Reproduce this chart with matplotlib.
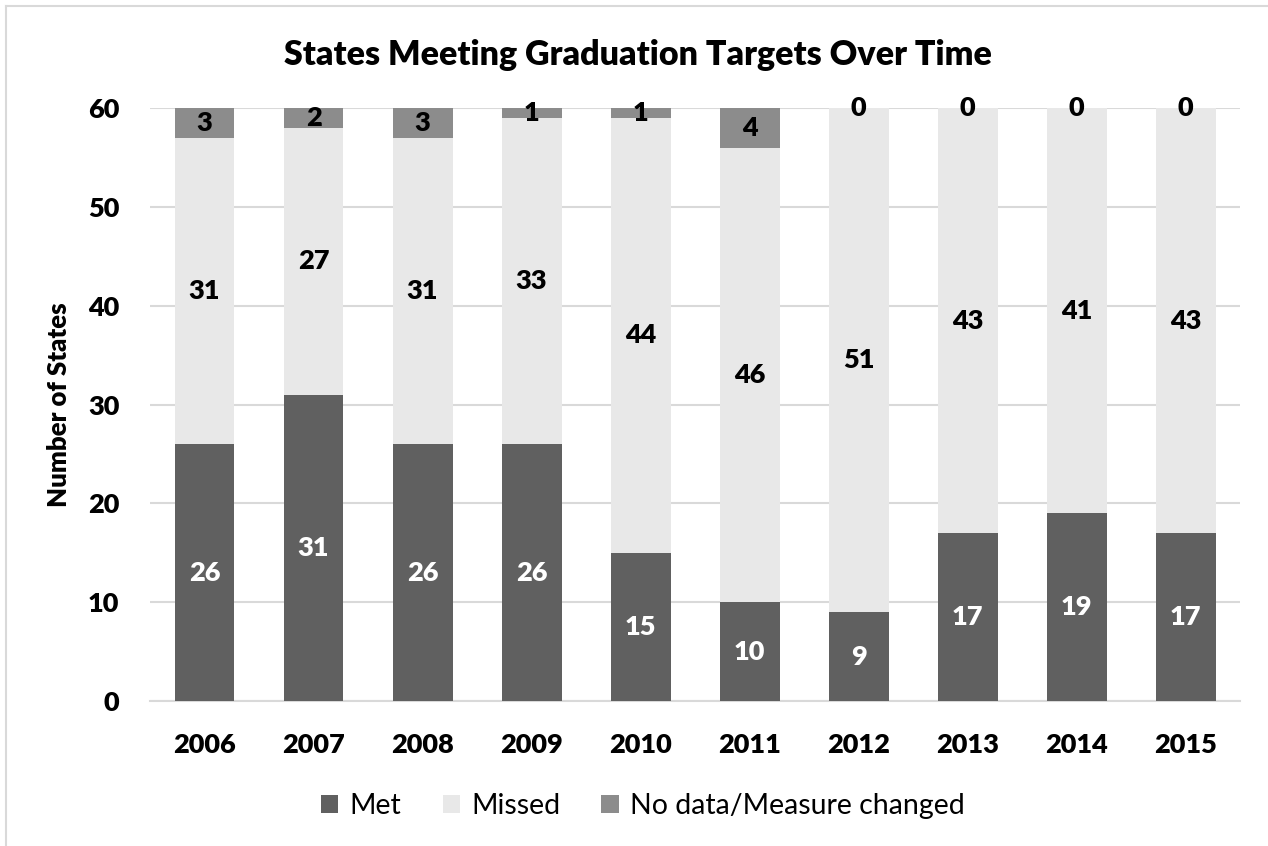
import numpy as np
import matplotlib.pyplot as plt
from matplotlib.lines import Line2D

years = ['2006', '2007', '2008', '2009', '2010', '2011', '2012', '2013', '2014', '2015']
met = [26, 31, 26, 26, 15, 10, 9, 17, 19, 17]
missed = [31, 27, 31, 33, 44, 46, 51, 43, 41, 43]
no_data = [3, 2, 3, 1, 1, 4, 0, 0, 0, 0]

plt.rcParams['font.family'] = ['Lato', 'DejaVu Sans']
BW = 'heavy'

fig = plt.figure(figsize=(12.68, 8.46), dpi=100)
ax = fig.add_axes([0.1183, 0.1714, 0.8597, 0.7009])

x = np.arange(len(years))
met = np.array(met)
missed = np.array(missed)
no_data = np.array(no_data)
w = 0.55

b1 = ax.bar(x, met, w, color='#606060', label='Met', zorder=3)
b2 = ax.bar(x, missed, w, bottom=met, color='#e8e8e8', label='Missed', zorder=3)
b3 = ax.bar(x, no_data, w, bottom=met + missed, color='#8c8c8c',
            label='No data/Measure changed', zorder=3)

# data labels centred in each segment
for i in range(len(years)):
    ax.text(x[i], met[i] / 2, str(met[i]), ha='center', va='center',
            fontsize=19.5, fontweight=BW, color='white', zorder=4)
    ax.text(x[i], met[i] + missed[i] / 2, str(missed[i]), ha='center', va='center',
            fontsize=19.5, fontweight=BW, color='black', zorder=4)
    ax.text(x[i], met[i] + missed[i] + no_data[i] / 2, str(no_data[i]), ha='center',
            va='center', fontsize=19.5, fontweight=BW, color='black', zorder=4)

ax.set_xlim(-0.5, len(years) - 0.5)
ax.set_ylim(0, 60)
ax.set_yticks(range(0, 61, 10))
ax.set_xticks(x)
ax.set_xticklabels(years)
ax.tick_params(axis='both', length=0, labelsize=19.5)
ax.tick_params(axis='x', pad=23)
ax.tick_params(axis='y', pad=22)
for lab in ax.get_xticklabels() + ax.get_yticklabels():
    lab.set_fontweight(BW)
ax.yaxis.grid(True, color='#d9d9d9', linewidth=1.5, zorder=0)
for s in ['top', 'right', 'left']:
    ax.spines[s].set_visible(False)
ax.spines['bottom'].set_color('#d9d9d9')
ax.spines['bottom'].set_linewidth(1.5)

ax.set_ylabel('Number of States', fontsize=18.5, fontweight=BW, labelpad=12)
fig.text(0.503, 0.935, 'States Meeting Graduation Targets Over Time', ha='center',
         va='center', fontsize=24.5, fontweight=BW)

fig.legend(handles=[b1, b2, b3], loc='center', bbox_to_anchor=(0.507, 0.047), ncol=3,
           frameon=False, fontsize=20.5, handlelength=0.6, handleheight=0.6,
           handletextpad=0.4, columnspacing=1.45)

# chart area border (left and top visible)
fig.add_artist(Line2D([6 / 1268, 6 / 1268], [0, 1 - 6 / 846], transform=fig.transFigure,
                      color='#d9d9d9', linewidth=1.5))
fig.add_artist(Line2D([6 / 1268, 1], [1 - 6 / 846, 1 - 6 / 846], transform=fig.transFigure,
                      color='#d9d9d9', linewidth=1.5))

fig.savefig('out.png', dpi=100)
